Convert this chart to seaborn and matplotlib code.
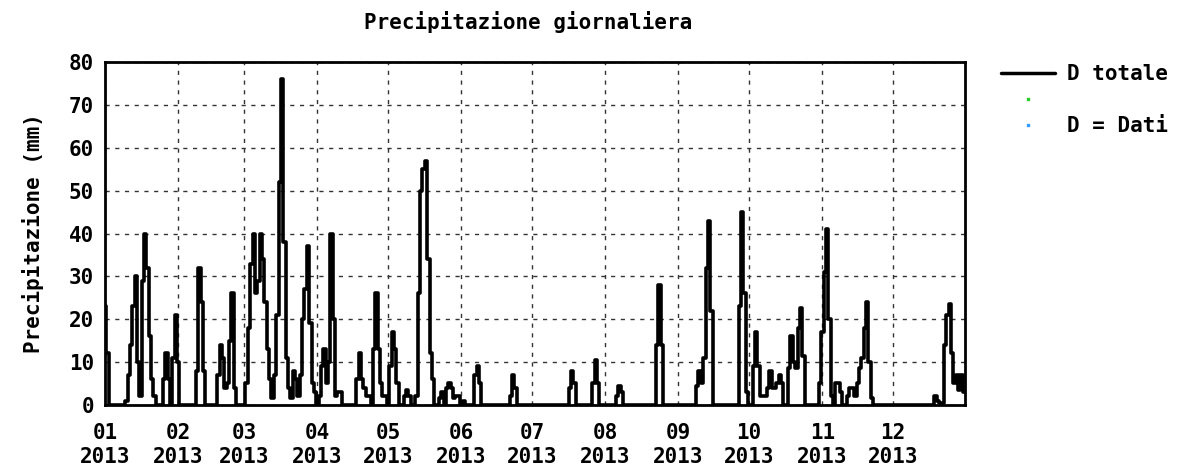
import numpy as np
import pandas as pd
import seaborn as sns
import matplotlib.pyplot as plt
import matplotlib.dates as mdates
from matplotlib.lines import Line2D

# daily precipitation (mm), 2013, one list per month
jan = [23, 12, 0, 0, 0, 0, 0, 0, 0, 1, 7, 14, 23, 30, 10, 2, 29, 40, 32, 16,
       6, 2, 0, 0, 0, 6, 12, 6, 0, 11, 21]
feb = [10, 0, 0, 0, 0, 0, 0, 0, 8, 32, 24, 8, 0, 0, 0, 0, 0, 7, 14, 11,
       4, 5, 15, 26, 4, 0, 0, 0]
mar = [0, 5, 18, 33, 40, 26, 29, 40, 34, 24, 13, 6, 1.5, 7, 21, 52, 76, 38, 11, 4,
       1.5, 8, 6, 2, 7, 20, 27, 37, 19, 5, 3]
apr = [0, 2, 9, 13, 5, 10, 40, 20, 2, 3, 3, 0, 0, 0, 0, 0, 0, 6, 12, 6,
       4, 2, 2, 0, 13, 26, 13, 5, 2, 2]
may = [0, 9, 17, 13, 5, 0, 0, 2, 3.5, 2, 0, 0, 2, 26, 50, 55, 57, 34, 12, 6,
       0, 0, 1.5, 3, 0, 4, 5, 4, 1.5, 2, 2]
jun = [0, 1, 0, 0, 0, 0, 7, 9, 5, 0, 0, 0, 0, 0, 0, 0, 0, 0, 0, 0,
       0, 2, 7, 4, 0, 0, 0, 0, 0, 0]
jul = [0, 0, 0, 0, 0, 0, 0, 0, 0, 0, 0, 0, 0, 0, 0, 0, 4, 8, 5, 0,
       0, 0, 0, 0, 0, 0, 5, 10.5, 5, 0, 0]
aug = [0, 0, 0, 0, 0, 2, 4.5, 3, 0, 0, 0, 0, 0, 0, 0, 0, 0, 0, 0, 0,
       0, 0, 14, 28, 14, 0, 0, 0, 0, 0, 0]
sep = [0, 0, 0, 0, 0, 0, 0, 0, 4.5, 8, 5, 11, 32, 43, 22, 0, 0, 0, 0, 0,
       0, 0, 0, 0, 0, 0, 23, 45, 26, 3]
oct_ = [0, 0, 9, 17, 9, 2, 2, 2, 4, 8, 4, 4, 5, 7, 5, 0, 0, 8.5, 16, 10,
        8.5, 18, 22.5, 11.5, 0, 0, 0, 0, 0, 0, 5]
nov = [17, 31, 41, 20, 2, 0, 5, 5, 3, 0, 0, 2, 4, 4, 2, 5, 8.5, 11, 18, 24,
       10, 1.5, 0, 0, 0, 0, 0, 0, 0, 0]
dec = [0, 0, 0, 0, 0, 0, 0, 0, 0, 0, 0, 0, 0, 0, 0, 0, 0, 0, 2, 1,
       0.5, 0.5, 14, 21, 23.5, 12, 5, 7, 3.5, 7, 3]

values = jan + feb + mar + apr + may + jun + jul + aug + sep + oct_ + nov + dec
dates = pd.date_range("2013-01-01", periods=len(values), freq="D")
df = pd.DataFrame({"data": dates, "pioggia": values})

sns.set_style("white")
plt.rcParams["font.family"] = ["DejaVu Sans Mono"]
plt.rcParams["font.weight"] = "bold"
plt.rcParams["text.color"] = "black"
plt.rcParams["axes.labelcolor"] = "black"
plt.rcParams["xtick.color"] = "black"
plt.rcParams["ytick.color"] = "black"
fs = 15

fig = plt.figure(figsize=(11.81, 4.68), dpi=100)
ax = fig.add_axes([0.089, 0.135, 0.728, 0.732])

sns.lineplot(data=df, x="data", y="pioggia", color="black", linewidth=2.6,
             drawstyle="steps-mid", ax=ax)

ax.set_xlim(pd.Timestamp("2013-01-01"), pd.Timestamp("2013-12-31 10:00"))
ax.set_ylim(0, 80)
ax.set_yticks(range(0, 81, 10))
ax.xaxis.set_major_locator(mdates.MonthLocator())
ax.xaxis.set_major_formatter(mdates.DateFormatter("%m\n%Y"))
ax.grid(True, color="#333333", linestyle=(0, (3, 4)), linewidth=1)
ax.tick_params(axis="y", length=0, labelsize=fs, pad=8)
ax.tick_params(axis="x", length=0, labelsize=fs, pad=13)
for lab in ax.get_xticklabels() + ax.get_yticklabels():
    lab.set_fontweight("bold")
    lab.set_linespacing(1.25)
for s in ax.spines.values():
    s.set_color("black")
    s.set_linewidth(2)

ax.set_xlabel("")
ax.set_ylabel("Precipitazione (mm)", fontsize=fs, fontweight="bold", labelpad=18)
fig.text(0.447, 0.952, "Precipitazione giornaliera", ha="center", va="center",
         fontsize=fs, fontweight="bold")

handles = [Line2D([], [], color="black", lw=2.5),
           Line2D([], [], color="#22cc22", marker="s", markersize=1.5, lw=0),
           Line2D([], [], color="#3399ff", marker="s", markersize=1.5, lw=0)]
ax.legend(handles, ["D totale", " ", "D = Dati"], loc="upper left",
          bbox_to_anchor=(1.02, 1.05), frameon=False,
          prop={"weight": "bold", "size": fs}, handlelength=2.6,
          handletextpad=0.6, labelspacing=0.3)

fig.savefig("out.png", dpi=100)
